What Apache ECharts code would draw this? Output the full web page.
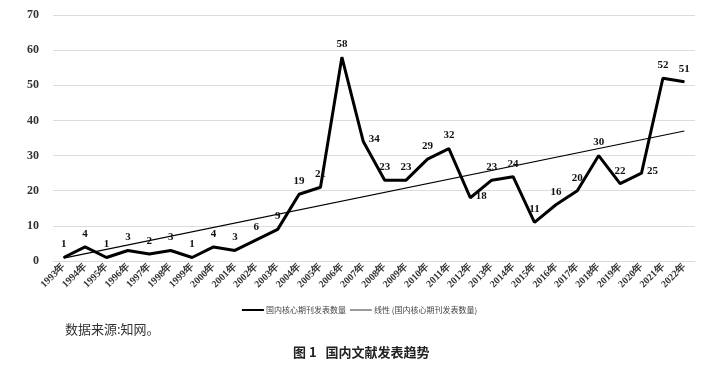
<!DOCTYPE html>
<html><head><meta charset="utf-8">
<script src="https://cdn.jsdelivr.net/npm/echarts@6/dist/echarts.min.js"></script>
<style>html,body{margin:0;padding:0;background:#fff;}#c{width:719px;height:366px;}</style>
</head><body><div id="c"></div>
<script>
const years = ['1993年','1994年','1995年','1996年','1997年','1998年','1999年','2000年','2001年','2002年','2003年','2004年','2005年','2006年','2007年','2008年','2009年','2010年','2011年','2012年','2013年','2014年','2015年','2016年','2017年','2018年','2019年','2020年','2021年','2022年'];
const counts = [1,4,1,3,2,3,1,4,3,6,9,19,21,58,34,23,23,29,32,18,23,24,11,16,20,30,22,25,52,51];
const trendStart = 0.8, trendEnd = 37;
const yTicks = [0,10,20,30,40,50,60,70];
const seriesName = '国内核心期刊发表数量';
const trendName = '线性 (国内核心期刊发表数量)';
const sourceText = '数据来源:知网。';
const titleText = '图 1   国内文献发表趋势';

const SERIF = 'Liberation Serif';
const rightLabels = {'2007年':1,'2012年':1,'2020年':1};
const lineData = counts.map((v,i)=>{
  const o = {value:v};
  if (rightLabels[years[i]]) o.label = {position:'right', offset:[-2,-2]};
  return o;
});
const trendData = years.map((y,i)=> i===0 ? trendStart : (i===years.length-1 ? trendEnd : null));

const chart = echarts.init(document.getElementById('c'), null, {renderer:'canvas'});
chart.setOption({
  animation:false,
  backgroundColor:'#fff',
  graphic:[
    {type:'text', left:65, top:323, style:{text:sourceText, font:'13px "Noto Sans CJK SC"', fill:'#333'}},
    {type:'text', left:293, top:346, style:{text:titleText, font:'bold 13px "Noto Sans CJK SC"', fill:'#222'}}
  ],
  legend:{
    bottom:47, left:'center',
    itemWidth:22, itemHeight:8, itemGap:4,
    textStyle:{fontSize:8, color:'#444', fontFamily:'Noto Sans CJK SC', padding:[0,0,0,-3]},
    data:[{name:seriesName, icon:'path://M0,3L22,3L22,5L0,5Z'},{name:trendName, icon:'path://M0,3.6L22,3.6L22,4.4L0,4.4Z'}]
  },
  grid:{left:53, right:24, top:15, bottom:105, containLabel:false},
  xAxis:{
    type:'category', data:years, boundaryGap:true,
    axisLine:{lineStyle:{color:'#d9d9d9', width:1}},
    axisTick:{interval:0, length:4, lineStyle:{color:'#d9d9d9'}},
    axisLabel:{interval:0, rotate:45, fontSize:10, fontWeight:'bold', fontFamily:SERIF, color:'#333', margin:4}
  },
  yAxis:{
    type:'value', min:yTicks[0], max:yTicks[yTicks.length-1], interval:10,
    axisLine:{show:false}, axisTick:{show:false},
    splitLine:{lineStyle:{color:'#dcdcdc', width:1}},
    axisLabel:{fontSize:12, fontWeight:'bold', fontFamily:SERIF, color:'#333', margin:14}
  },
  series:[
    {name:seriesName, type:'line', data:lineData, symbol:'circle', symbolSize:1, showSymbol:true,
     lineStyle:{color:'#000', width:3}, itemStyle:{color:'#000'},
     label:{show:true, position:'top', distance:7, fontSize:11, fontWeight:'bold', fontFamily:SERIF, color:'#111'}, z:3},
    {name:trendName, type:'line', data:trendData, connectNulls:true, symbol:'none', lineStyle:{color:'#000', width:1.2}, itemStyle:{color:'#000'}, z:2}
  ]
});
</script></body></html>
